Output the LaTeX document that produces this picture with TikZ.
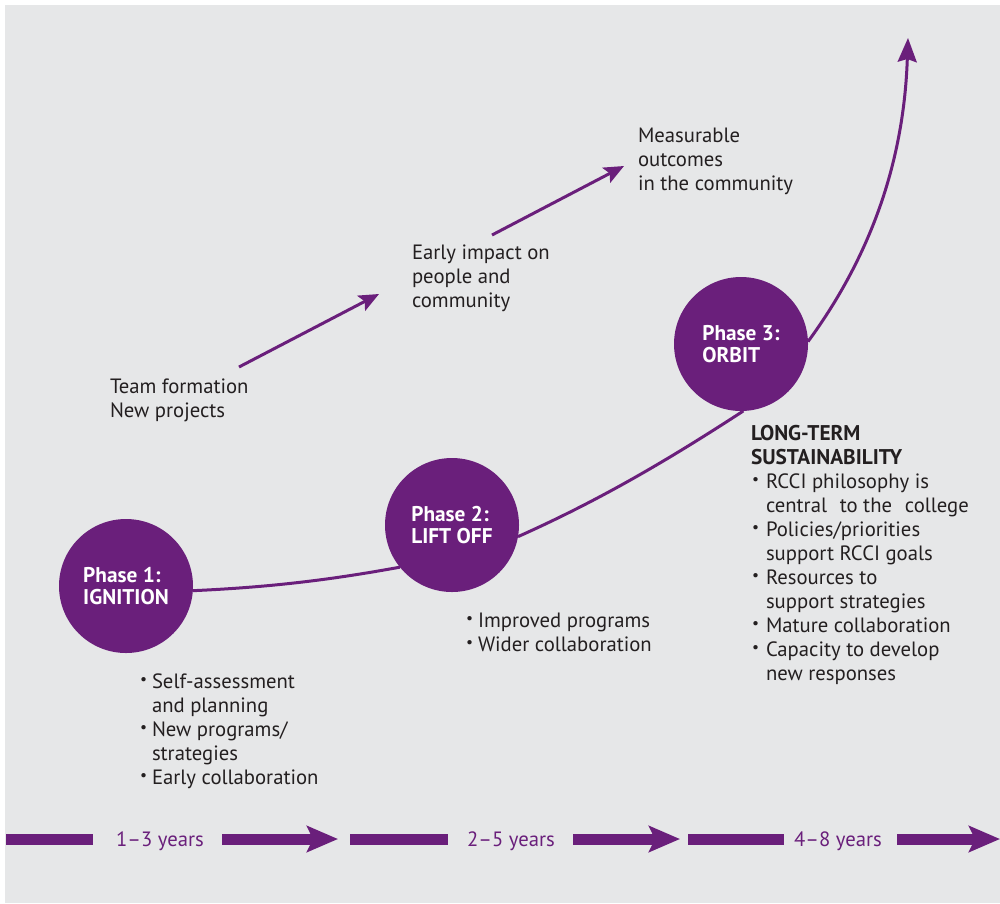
\documentclass[tikz,border=0pt]{standalone}
\usepackage{fontspec}
\usepackage{graphicx}
\setmainfont{PT Sans}
\usetikzlibrary{arrows.meta}

\definecolor{rcpurple}{RGB}{106,31,123}
\definecolor{rcgray}{RGB}{230,231,232}
\definecolor{rcink}{RGB}{35,31,32}

% stacked lines, first baseline is the box baseline
\newcommand\txtlines[1]{\vtop{\baselineskip=24pt\lineskiplimit=-100pt\lineskip=0pt
  \halign{##\hfil\cr#1\crcr}}}
% bullet list with hanging indent
\newcommand\bullines[2][12pt]{\vtop{\baselineskip=24pt\lineskiplimit=-100pt\lineskip=0pt
  \halign{\hbox to #1{##\hfil}&##\hfil\cr#2\crcr}}}
\newcommand\bul{\raisebox{0.3ex}{\scalebox{0.75}{\textbullet}}}

\pgfdeclarelayer{paper}
\pgfdeclarelayer{track}
\pgfsetlayers{paper,track,main}

\begin{document}
\begin{tikzpicture}[x=1pt,y=-1pt,
  every node/.style={inner sep=0pt, outer sep=0pt, text=rcink,
    font=\fontsize{20.7}{24}\selectfont},
  phase/.style={circle, fill=rcpurple, minimum size=134pt, text=white,
    align=left, font=\bfseries\fontsize{21.3}{22}\selectfont},
  growth/.style={draw=rcpurple, line width=3pt},
  impact/.style={draw=rcpurple, line width=3pt,
    -{Stealth[length=20pt,width=17pt,inset=4pt]}},
  yearbar/.style={draw=rcpurple, line width=11pt},
  yeararrow/.style={yearbar, -{Stealth[length=31pt,width=26pt,inset=6pt]}},
  years/.style={text=rcpurple, anchor=base}
]
\useasboundingbox (0,0) rectangle (1000,903);
\begin{pgfonlayer}{paper}
  \fill[rcgray] (5,5) rectangle (1000,903);
\end{pgfonlayer}

% the three phases
\node[phase] (p1) at (126,586) {Phase 1:\\IGNITION};
\node[phase] (p2) at (452,525) {Phase 2:\\LIFT OFF};
\node[phase] (p3) at (741,344) {Phase 3:\\ORBIT};
\coordinate (top) at (908,38);

% growth curve running behind the phases
\begin{pgfonlayer}{track}
  \draw[growth] (p1.-4) .. controls (275,587) and (335,579) .. (p2.219);
  \draw[growth] (p2.-10) .. controls (600,500) and (668,460) .. (p3.-88);
  \draw[growth, -{Stealth[length=24pt,width=19pt,inset=3pt]}]
    (p3.2) .. controls (873,253) and (904,158) .. (top);
\end{pgfonlayer}

% outcomes
\node[anchor=base west] (team) at (110,393) {\txtlines{Team formation\cr New projects}};
\node[anchor=base west] (early) at (412,259) {\txtlines{Early impact on\cr people and\cr community}};
\node[anchor=base west] (meas) at (638,142) {\txtlines{Measurable\cr outcomes\cr in the community}};

\coordinate (i1s) at (239,367);
\coordinate (i1e) at (379,294);
\coordinate (i2s) at (492,235);
\coordinate (i2e) at (624,166);
\draw[impact] (i1s) -- (i1e);
\draw[impact] (i2s) -- (i2e);

% phase details
\node[anchor=base west] (l1) at (140,688) {\bullines{\bul & Self-assessment\cr
  & and planning\cr \bul & New programs/\cr & strategies\cr \bul & Early collaboration}};
\node[anchor=base west] (l2) at (466,627) {\bullines{\bul & Improved programs\cr
  \bul & Wider collaboration}};
\node[anchor=base west, font=\bfseries\fontsize{21.3}{24}\selectfont] (l3h) at (751,440)
  {\txtlines{LONG-TERM\cr SUSTAINABILITY}};
\node[anchor=base west] (l3) at (752,488) {\bullines[14pt]{\bul & RCCI philosophy is\cr
  & central\hspace{0.35em} to the\hspace{0.35em} college\cr
  \bul & Policies/priorities\cr & support RCCI goals\cr
  \bul & Resources to\cr & support strategies\cr
  \bul & Mature collaboration\cr
  \bul & Capacity to develop\cr & new responses}};

% timeline
\coordinate (b1s) at (6,839);   \coordinate (b1e) at (93,839);
\coordinate (a1s) at (222,839); \coordinate (a1e) at (338,839);
\coordinate (b2s) at (350,839); \coordinate (b2e) at (448,839);
\coordinate (a2s) at (573,839); \coordinate (a2e) at (680,839);
\coordinate (b3s) at (688,839); \coordinate (b3e) at (784,839);
\coordinate (a3s) at (897,839); \coordinate (a3e) at (1000,839);
\draw[yearbar] (b1s) -- (b1e);
\draw[yeararrow] (a1s) -- (a1e);
\draw[yearbar] (b2s) -- (b2e);
\draw[yeararrow] (a2s) -- (a2e);
\draw[yearbar] (b3s) -- (b3e);
\draw[yeararrow] (a3s) -- (a3e);
\node[years] (y1) at (160,846) {1–3 years};
\node[years] (y2) at (511,846) {2–5 years};
\node[years] (y3) at (838,846) {4–8 years};
\end{tikzpicture}
\end{document}
